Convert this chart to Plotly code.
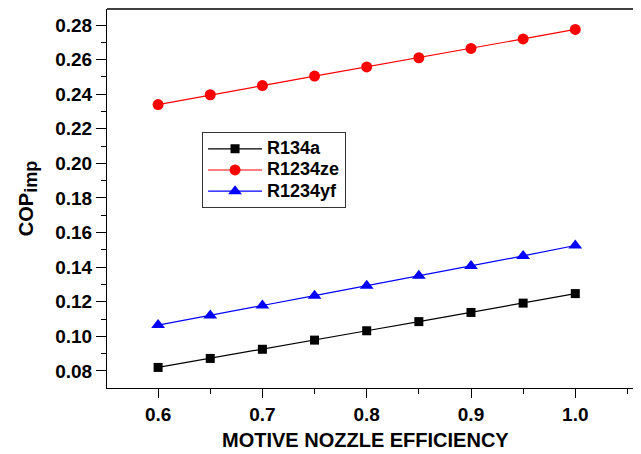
import plotly.graph_objects as go

efficiency = [0.6, 0.65, 0.7, 0.75, 0.8, 0.85, 0.9, 0.95, 1.0]
r134a = [0.0820, 0.0872, 0.0925, 0.0978, 0.1032, 0.1085, 0.1138, 0.1192, 0.1247]
r1234ze = [0.2340, 0.2397, 0.2450, 0.2505, 0.2558, 0.2611, 0.2665, 0.2720, 0.2775]
r1234yf = [0.1065, 0.1120, 0.1178, 0.1235, 0.1292, 0.1350, 0.1407, 0.1465, 0.1525]
series_names = ["R134a", "R1234ze", "R1234yf"]

x_ticks = [0.6, 0.7, 0.8, 0.9, 1.0]
x_tick_text = ["0.6", "0.7", "0.8", "0.9", "1.0"]
y_ticks = [0.08, 0.10, 0.12, 0.14, 0.16, 0.18, 0.20, 0.22, 0.24, 0.26, 0.28]
y_tick_text = ["0.08", "0.10", "0.12", "0.14", "0.16", "0.18", "0.20", "0.22", "0.24", "0.26", "0.28"]


def legend_label(name):
    return '<span style="font-size:18px">' + name + '</span>'


fig = go.Figure()
fig.add_trace(go.Scatter(x=efficiency, y=r134a, name=legend_label(series_names[0]), mode="lines+markers",
                         line=dict(color="black", width=1.2),
                         marker=dict(symbol="square", size=9, color="black")))
fig.add_trace(go.Scatter(x=efficiency, y=r1234ze, name=legend_label(series_names[1]), mode="lines+markers",
                         line=dict(color="red", width=1.2),
                         marker=dict(symbol="circle", size=11, color="red")))
fig.add_trace(go.Scatter(x=efficiency, y=r1234yf, name=legend_label(series_names[2]), mode="lines+markers",
                         line=dict(color="blue", width=1.2),
                         marker=dict(symbol="triangle-up", size=12, color="blue")))

font_family = "Liberation Sans, Arial, sans-serif"
# page body has an 8px default margin, so margins are offset by 8px
fig.update_layout(
    width=641, height=454,
    margin=dict(l=99, r=8, t=1, b=74, autoexpand=False),
    paper_bgcolor="white", plot_bgcolor="white",
    font=dict(family=font_family, color="black"),
    showlegend=True,
    legend=dict(x=0.178, y=0.675, xanchor="left", yanchor="top",
                bordercolor="#333333", borderwidth=1, bgcolor="white",
                font=dict(size=14, family=font_family, weight="bold"),
                tracegroupgap=0, itemwidth=54),
    xaxis=dict(range=[0.551, 1.063], tickvals=x_ticks, ticktext=x_tick_text,
               automargin=False,
               showline=True, linecolor="black", linewidth=1, mirror=False,
               ticks="outside", ticklen=9, tickcolor="black", tickwidth=1,
               minor=dict(tickvals=[0.55, 0.65, 0.75, 0.85, 0.95, 1.05], ticks="outside", ticklen=5, tickcolor="black"),
               showgrid=False, zeroline=False,
               tickfont=dict(size=19, weight="bold")),
    yaxis=dict(range=[0.0701, 0.2893], tickvals=y_ticks, ticktext=y_tick_text,
               automargin=False,
               showline=True, linecolor="black", linewidth=1,
               ticks="outside", ticklen=10, tickcolor="black", tickwidth=1,
               minor=dict(tickvals=[0.07, 0.09, 0.11, 0.13, 0.15, 0.17, 0.19, 0.21, 0.23, 0.25, 0.27], ticks="outside", ticklen=5, tickcolor="black"),
               showgrid=False, zeroline=False,
               tickfont=dict(size=19, weight="bold"),
               title=dict(text="COP<sub><span style=\"font-size:18px\">imp</span></sub>", font=dict(size=20, weight="bold"), standoff=16)),
    annotations=[dict(text="MOTIVE NOZZLE EFFICIENCY", xref="paper", yref="paper",
                      x=0.485, y=-0.137, xanchor="center", yanchor="middle", showarrow=False,
                      font=dict(size=20, weight="bold", family=font_family, color="black"))],
)
# top border line
fig.add_shape(type="line", xref="paper", yref="paper", x0=0, x1=1, y0=1, y1=1,
              line=dict(color="black", width=1.5))

fig.write_html("out.html")
